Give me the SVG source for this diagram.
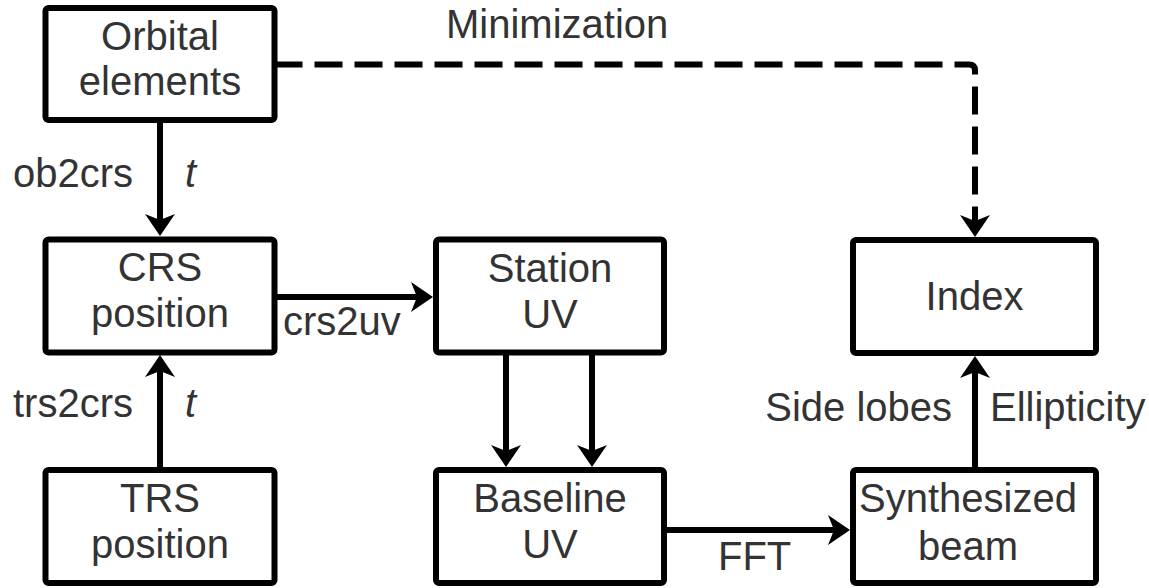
<svg xmlns="http://www.w3.org/2000/svg" width="1149" height="588" viewBox="0 0 1149 588">
<style>
.box{fill:#ffffff;stroke:#000000;stroke-width:6}
.t{font-family:"Liberation Sans",Arial,sans-serif;font-size:40px;fill:#333333}
.c{text-anchor:middle}
.e{text-anchor:end}
.i{font-style:italic}
.ln{fill:none;stroke:#000000;stroke-width:6}
.dash{stroke-dasharray:28 12}
</style>
<defs>
<marker id="arr" viewBox="-7 -16 24 32" markerWidth="24" markerHeight="32" refX="0" refY="0" orient="auto" markerUnits="userSpaceOnUse">
<path d="M-6,-15 L16,0 L-6,15 L0,0 Z" fill="#000000"/>
</marker>
</defs>
<rect width="1149" height="588" fill="#ffffff"/>
<g id="connectors">
<path class="ln" d="M160 120 V220" marker-end="url(#arr)"/>
<path class="ln" d="M160 470 V371" marker-end="url(#arr)"/>
<path class="ln" d="M274.5 297 H417" marker-end="url(#arr)"/>
<path class="ln" d="M506 352 V451" marker-end="url(#arr)"/>
<path class="ln" d="M592 352 V451" marker-end="url(#arr)"/>
<path class="ln" d="M664 530 H834" marker-end="url(#arr)"/>
<path class="ln" d="M975 470 V372" marker-end="url(#arr)"/>
<path class="ln dash" d="M274.5 64.5 H969 Q975 64.5 975 70.5 V221" marker-end="url(#arr)"/>
<text class="t" x="446" y="38">Minimization</text>
<text class="t" x="13" y="187">ob2crs</text>
<text class="t i" x="185" y="187">t</text>
<text class="t" x="13" y="417">trs2crs</text>
<text class="t i" x="185" y="417">t</text>
<text class="t" x="283" y="335">crs2uv</text>
<text class="t" x="718" y="570">FFT</text>
<text class="t e" x="952" y="421">Side lobes</text>
<text class="t" x="990" y="421">Ellipticity</text>
</g>
<g id="orbital">
<rect class="box" x="45.5" y="8" width="229" height="112" rx="3"/>
<text class="t c" x="160" y="50">Orbital</text>
<text class="t c" x="160" y="95">elements</text>
</g>
<g id="crs">
<rect class="box" x="45.5" y="239.5" width="229" height="113" rx="3"/>
<text class="t c" x="160" y="281">CRS</text>
<text class="t c" x="160" y="327">position</text>
</g>
<g id="trs">
<rect class="box" x="45.5" y="470" width="229" height="113" rx="3"/>
<text class="t c" x="160" y="512">TRS</text>
<text class="t c" x="160" y="558">position</text>
</g>
<g id="station">
<rect class="box" x="436" y="239.5" width="228" height="113" rx="3"/>
<text class="t c" x="550" y="282">Station</text>
<text class="t c" x="550" y="328">UV</text>
</g>
<g id="baseline">
<rect class="box" x="436" y="470" width="228" height="113" rx="3"/>
<text class="t c" x="550" y="512">Baseline</text>
<text class="t c" x="550" y="558">UV</text>
</g>
<g id="index">
<rect class="box" x="853" y="240" width="243" height="113" rx="3"/>
<text class="t c" x="974.5" y="310">Index</text>
</g>
<g id="synthesized">
<rect class="box" x="853" y="470" width="243" height="113" rx="3"/>
<text class="t c" x="968" y="512">Synthesized</text>
<text class="t c" x="968" y="560">beam</text>
</g>
</svg>
